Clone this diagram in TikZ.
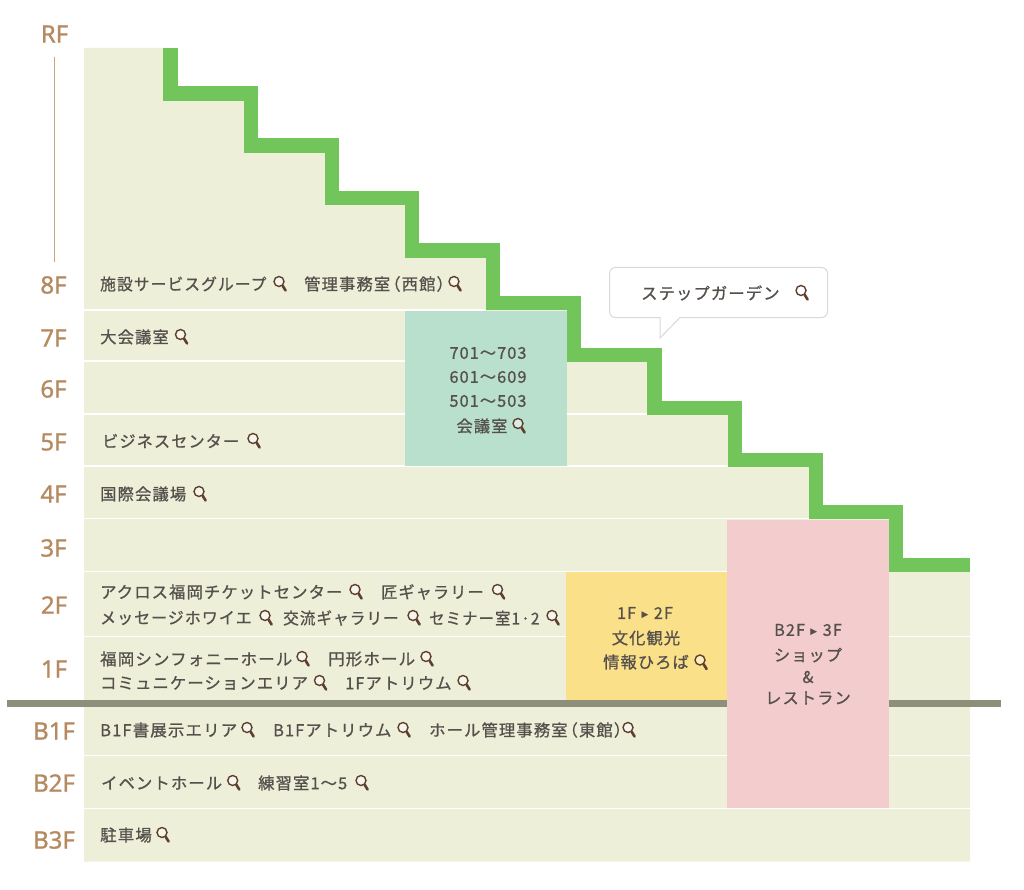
\documentclass[tikz,border=0pt]{standalone}
\usepackage{fontspec}
\newfontfamily\jpf[LetterSpace=7,FakeBold=0.9]{Noto Sans CJK JP}
\newfontfamily\flf[FakeBold=1]{Noto Sans}
\newfontfamily\symf{DejaVu Sans}
\definecolor{beige}{HTML}{EDEFD8}
\definecolor{stairgreen}{HTML}{72C55A}
\definecolor{floorbrown}{HTML}{B58A60}
\definecolor{rulebrown}{HTML}{C9A581}
\definecolor{tealbox}{HTML}{B8E0CC}
\definecolor{yellowbox}{HTML}{FBE08A}
\definecolor{pinkbox}{HTML}{F3CDCE}
\definecolor{groundline}{HTML}{8E8F7A}
\definecolor{txt}{HTML}{55504C}
\definecolor{magc}{HTML}{5E3F2E}
\tikzset{
  floorlabel/.style={font=\flf\fontsize{24}{24}\selectfont,text=floorbrown,inner sep=0pt,anchor=center},
  room/.style={font=\jpf\fontsize{16.3}{16}\selectfont,text=txt,inner sep=0pt,anchor=west},
  boxtext/.style={font=\jpf\fontsize{16.2}{16}\selectfont,text=txt,inner sep=0pt,anchor=center},
  sep/.style={draw=white,line width=1.3pt},
  magpic/.pic={
    \draw[magc,line width=1.4pt,fill=white,fill opacity=.45] (0,0) circle (5);
    \draw[magc,line width=2.6pt,line cap=round] (3.6,4.2) -- (6.6,9);
  }
}
\newcommand{\roomlbl}[5]{%
  \node[room] (#1) at (#2,#3) {#4};
  \pic at (#5,#3-2.5) {magpic};
}
\newcommand{\sq}[2]{\scalebox{#1}[1]{#2}}
\newcommand{\tri}{{\symf\fontsize{9}{9}\selectfont\raisebox{1.5pt}{▶}}}
\begin{document}
\begin{tikzpicture}[x=1pt,y=-1pt]
\useasboundingbox (0,0) rectangle (1024,890);
\fill[white] (0,0) rectangle (1024,890);
% body
\fill[beige] (84,48) -- (170.5,48) -- (170.5,93.5) -- (251.3,93.5) -- (251.3,145.5) -- (332,145.5) -- (332,198) -- (412.3,198) -- (412.3,250.5) -- (493,250.5) -- (493,303) -- (574,303) -- (574,355.3) -- (654.5,355.3) -- (654.5,407.7) -- (735.3,407.7) -- (735.3,460) -- (816,460) -- (816,512.3) -- (896.3,512.3) -- (896.3,565) -- (970,565) -- (970,861.5) -- (84,861.5) -- cycle;
% floor separators
\draw[sep] (84,310) -- (486,310);
\draw[sep] (84,361) -- (648,361);
\draw[sep] (84,414) -- (648,414);
\draw[sep] (84,466) -- (729,466);
\draw[sep] (84,518.5) -- (809,518.5);
\draw[sep] (84,571.5) -- (890,571.5);
\draw[sep] (84,636.7) -- (970,636.7);
\draw[sep] (84,755.7) -- (970,755.7);
\draw[sep] (84,808.3) -- (970,808.3);
% coloured blocks
\fill[tealbox] (405,310.5) rectangle (566.7,465.5);
\fill[yellowbox] (565.5,572) rectangle (727,700);
% ground line
\fill[groundline] (7,699.7) rectangle (1001,706.7);
\fill[pinkbox] (727,519.5) rectangle (889,807.5);
% stairs
\draw[stairgreen,line width=14.2pt,miter limit=10] (170.5,48) -- (170.5,93.5) -- (251.3,93.5) -- (251.3,145.5) -- (332,145.5) -- (332,198) -- (412.3,198) -- (412.3,250.5) -- (493,250.5) -- (493,303) -- (574,303) -- (574,355.3) -- (654.5,355.3) -- (654.5,407.7) -- (735.3,407.7) -- (735.3,460) -- (816,460) -- (816,512.3) -- (896.3,512.3) -- (896.3,565) -- (970,565);
% RF rule
\draw[rulebrown,line width=1pt] (54.5,57) -- (54.5,262);
% floor labels
\node[floorlabel] (fRF) at (54.5,34) {RF};
\node[floorlabel] (f8) at (53.5,285) {8F};
\node[floorlabel] (f7) at (53.5,338) {7F};
\node[floorlabel] (f6) at (53.5,389) {6F};
\node[floorlabel] (f5) at (53.5,442) {5F};
\node[floorlabel] (f4) at (53.5,494) {4F};
\node[floorlabel] (f3) at (53.5,548) {3F};
\node[floorlabel] (f2) at (54,605) {2F};
\node[floorlabel] (f1) at (54,669) {1F};
\node[floorlabel] (fB1) at (54,731) {B1F};
\node[floorlabel] (fB2) at (54,783) {B2F};
\node[floorlabel] (fB3) at (54,840) {B3F};
% callout
\draw[draw=black!15,fill=white,line width=1pt] (615.5,267.5) -- (821.5,267.5) arc[start angle=-90,end angle=0,radius=6] -- (827.5,311.5) arc[start angle=0,end angle=90,radius=6] -- (680,317.5) -- (660,338) -- (660,317.5) -- (615.5,317.5) arc[start angle=90,end angle=180,radius=6] -- (609.5,273.5) arc[start angle=180,end angle=270,radius=6] -- cycle;
\roomlbl{garden}{641}{293}{ステップガーデン}{801}
% rooms
\roomlbl{r8a}{100}{284}{\sq{.965}{施設サービスグループ}}{279}
\roomlbl{r8b}{304}{284}{管理事務室\kern-6pt（西館）}{454}
\roomlbl{r7a}{100}{337}{大会議室}{180.5}
\roomlbl{r5a}{102}{441}{\sq{.99}{ビジネスセンター}}{253}
\roomlbl{r4a}{100}{494}{国際会議場}{199}
\roomlbl{r2a}{100}{592}{アクロス福岡チケットセンター}{355}
\roomlbl{r2b}{381}{592}{\sq{.99}{匠ギャラリー}}{497.5}
\roomlbl{r2c}{100}{618}{\sq{.975}{メッセージホワイエ}}{265}
\roomlbl{r2d}{283}{618}{\sq{.955}{交流ギャラリー}}{413}
\roomlbl{r2e}{429}{618}{\sq{.945}{セミナー室1·2}}{552}
\roomlbl{r1a}{100}{659}{\sq{1.01}{福岡シンフォニーホール}}{302}
\roomlbl{r1b}{328}{659}{\sq{1.01}{円形ホール}}{426}
\roomlbl{r1c}{100}{683}{コミュニケーションエリア}{319.5}
\roomlbl{r1d}{345}{683}{1Fアトリウム}{463}
\roomlbl{b1a}{100}{730}{\sq{1.01}{B1F書展示エリア}}{247}
\roomlbl{b1b}{273}{730}{B1Fアトリウム}{403}
\roomlbl{b1c}{429}{730}{ホール管理事務室\kern-6pt（東館）}{628}
\roomlbl{b2a}{101}{783}{イベントホール}{232.7}
\roomlbl{b2b}{258}{783}{練習室1〜5}{361}
\roomlbl{b3a}{100}{835}{\sq{1.01}{駐車場}}{162}
% teal block text
\node[boxtext] (t1) at (488,353) {701～703};
\node[boxtext] (t2) at (488,377) {601～609};
\node[boxtext] (t3) at (488,401) {501～503};
\node[boxtext] (t4) at (482,426) {会議室};
\pic at (518,423.5) {magpic};
% yellow block text
\node[boxtext] (y1) at (645,613) {1F\,\,\tri\,\,2F};
\node[boxtext] (y2) at (646,638) {文化観光};
\node[boxtext] (y3) at (646,662) {情報ひろば};
\pic at (700,660) {magpic};
% pink block text
\node[boxtext] (p1) at (808,630) {B2F\,\,\tri\,\,3F};
\node[boxtext] (p2) at (808,655) {ショップ};
\node[boxtext] (p3) at (808,677) {\&};
\node[boxtext] (p4) at (808,698) {レストラン};
\end{tikzpicture}
\end{document}
